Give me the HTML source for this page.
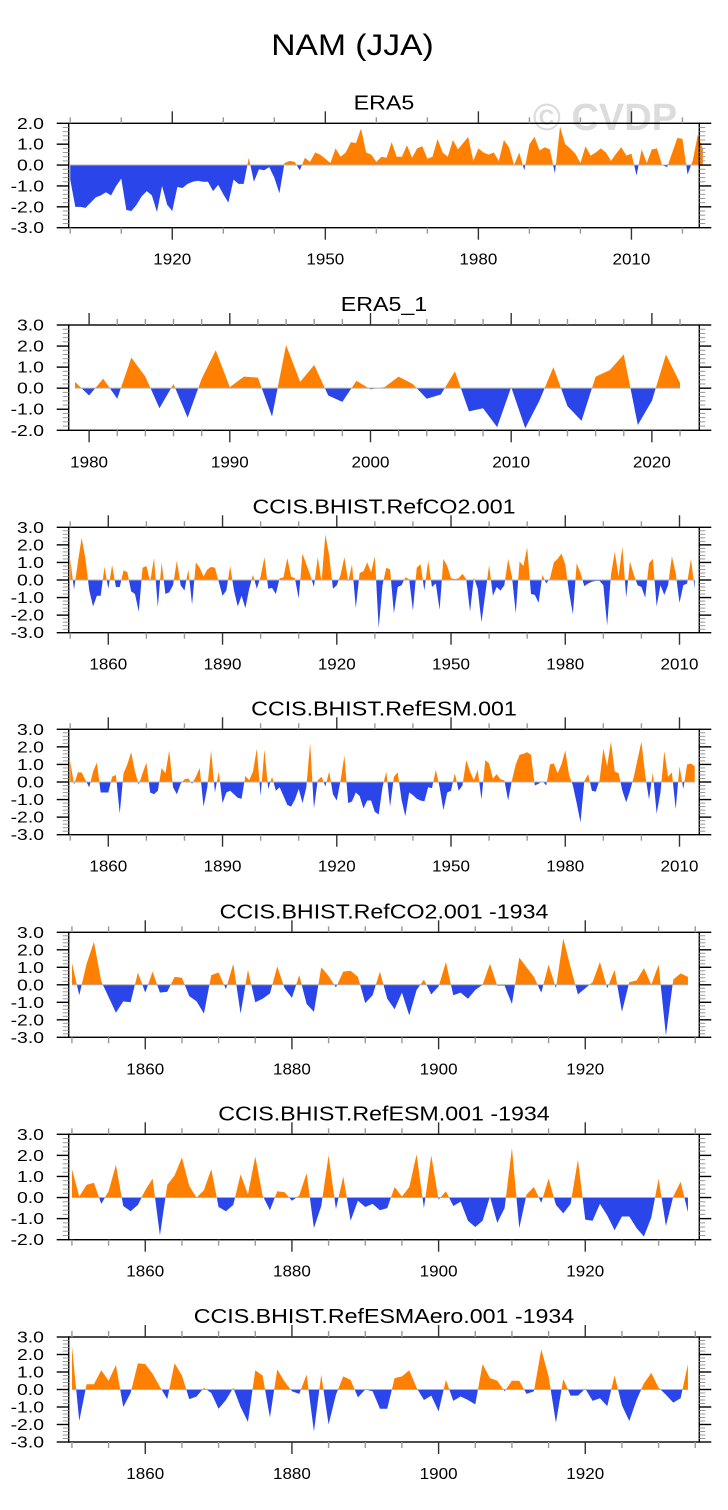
<!DOCTYPE html>
<html><head><meta charset="utf-8">
<style>
html,body{margin:0;padding:0;background:#fff;}
svg{display:block;font-family:"Liberation Sans",sans-serif;}
</style></head>
<body>
<svg id="chart" width="728" height="1510" viewBox="0 0 728 1510" xmlns="http://www.w3.org/2000/svg">
<rect x="0" y="0" width="728" height="1510" fill="#fff"/>
<text id="mainTitle" x="352.5" y="55" font-size="30" text-anchor="middle" fill="#000">NAM (JJA)</text>
<text x="605" y="130" font-size="38" font-weight="bold" text-anchor="middle" fill="#dcdcdc">© CVDP</text>
<g id="panels"></g>
</svg>
<script>
// ---- data arrays (values per year, starting at the given start year) ----
const era5Start = 1900;
const era5Values = [-0.7,-2.0,-2.0,-2.05,-1.8,-1.55,-1.45,-1.3,-1.45,-1.0,-0.65,-2.15,-2.2,-1.9,-1.5,-1.25,-1.45,-2.25,-1.0,-1.9,-2.2,-1.05,-1.1,-0.9,-0.8,-0.75,-0.8,-0.8,-1.25,-0.95,-1.4,-1.8,-0.7,-0.9,-0.9,0.35,-0.8,-0.2,-0.25,-0.1,-0.6,-1.35,0.1,0.2,0.15,-0.25,0.35,0.15,0.6,0.5,0.3,0.1,0.8,0.4,0.6,1.1,1.05,1.75,0.6,0.5,0.15,0.4,0.35,1.1,0.4,0.4,0.95,0.35,0.8,0.9,0.3,0.4,1.25,0.6,0.4,1.2,0.75,1.05,1.35,0.2,0.8,0.6,0.5,0.6,0.2,1.2,0.85,0.0,0.6,-0.25,1.0,1.35,0.7,0.85,0.75,-0.4,1.85,1.0,0.8,0.55,0.1,0.9,0.45,0.6,0.8,0.6,0.2,0.55,0.85,0.45,0.55,-0.5,0.75,0.1,0.75,0.8,0.0,-0.1,0.6,1.3,1.25,-0.45,0.2,1.45,0.75];
const era5b1Start = 1979;
const era5b1Values = [0.3,-0.35,0.45,-0.5,1.45,0.55,-0.95,0.2,-1.4,0.45,1.8,0.05,0.55,0.5,-1.35,2.05,0.3,1.1,-0.35,-0.65,0.35,-0.05,0.05,0.55,0.2,-0.5,-0.3,0.8,-1.1,-0.95,-1.85,0.05,-1.9,-0.6,1.0,-0.85,-1.55,0.55,0.85,1.6,-1.75,-0.6,1.6,0.25];
const co2Start = 1850;
const co2Values = [1.2,-0.55,1.0,2.4,1.2,-0.6,-1.5,-0.9,-0.9,0.75,-0.5,0.85,-0.4,-0.4,0.55,0.45,-0.65,-0.8,-1.8,0.7,0.8,-0.1,1.25,-1.55,1.0,-0.8,-0.7,-0.3,1.1,-0.3,-0.6,0.6,-1.4,1.0,0.7,0.2,0.6,0.75,0.7,-0.1,-0.9,-0.6,0.8,-0.6,-1.5,-0.9,-1.6,-0.5,0.3,-0.5,0.2,1.3,-0.5,-0.45,-0.8,0.1,0.15,1.25,0.2,0.1,-1.05,1.5,0.9,0.3,-0.4,1.3,-0.1,2.6,1.4,-0.5,-0.3,0.3,1.3,-0.1,0.9,-1.6,0.4,0.5,1.0,0.45,1.35,-2.75,-0.3,0.7,0.6,-1.9,-0.4,-0.3,0.15,0.05,-1.75,0.7,0.9,-0.6,1.1,-0.4,-0.2,-1.7,1.2,0.8,0.1,0.05,0.1,0.35,0.05,-1.8,0.15,-0.5,-2.4,-0.8,0.85,-0.9,-0.4,-0.6,-0.3,1.2,0.2,-1.9,1.05,0.8,1.85,-0.8,-0.85,-1.3,0.3,-0.2,0.1,1.0,1.2,1.5,0.9,-0.7,-1.95,0.95,0.4,-0.35,-0.2,-0.1,-0.05,-0.05,-0.3,-2.6,0.3,1.6,0.2,1.9,-1.0,1.05,0.3,-0.3,-0.4,-1.0,0.95,1.2,-1.5,-0.3,-0.85,-0.3,1.35,0.4,-1.3,-0.3,-0.2,1.2,-0.5];
const esmStart = 1850;
const esmValues = [1.2,-0.15,0.55,0.55,0.1,-0.3,0.6,1.1,-0.6,-0.6,-0.6,0.3,0.4,-1.8,0.5,1.0,1.7,0.6,-0.15,0.5,1.1,-0.6,-0.7,-0.5,0.8,0.5,1.8,-0.3,-0.7,-0.1,0.15,0.2,-0.1,0.3,0.8,-1.4,-0.3,1.8,-0.6,0.6,-1.2,-0.6,-0.5,-0.7,-0.9,-0.95,0.35,0.1,0.6,1.9,-0.8,1.85,-0.4,0.3,-0.5,-0.3,-0.8,-1.3,-1.4,-1.0,-0.4,-1.2,-0.3,2.2,-1.5,0.1,0.3,-0.25,0.6,-0.7,-1.05,0.1,1.5,-1.2,-1.1,-0.6,-0.8,-1.5,-1.05,-1.05,-1.7,-1.85,-0.3,0.6,-1.4,0.3,0.55,-1.0,-1.95,-0.6,-0.75,-0.95,-1.05,-1.1,-0.3,-0.35,0.7,-0.3,-1.6,-0.6,-0.5,0.5,-0.5,-0.2,1.25,0.6,0.1,0.7,-1.0,1.25,1.05,0.2,0.45,0.15,0.1,-1.05,0.1,1.0,1.55,1.6,1.7,1.55,-0.2,-0.1,0.05,-0.2,1.0,1.05,0.5,1.0,1.8,0.4,-0.2,-1.2,-2.3,0.05,0.45,-0.5,-0.55,0.1,1.9,0.9,2.3,0.6,0.5,-0.5,-1.15,-0.5,0.3,1.3,2.3,0.4,-1.0,0.55,-1.8,-0.6,1.75,0.3,0.55,-1.55,0.9,-0.4,1.0,1.05,0.9];
const co2b1934Start = 1850;
const co2b1934Values = [1.25,-0.6,1.2,2.45,0.2,-0.7,-1.6,-0.95,-1.0,0.7,-0.45,0.75,-0.45,-0.4,0.45,0.4,-0.65,-0.95,-1.65,0.55,0.7,-0.25,1.2,-1.65,0.85,-1.0,-0.8,-0.5,1.05,-0.2,-0.75,0.55,-1.1,-1.55,1.0,0.5,-0.15,0.75,0.8,0.45,-1.05,-0.6,0.75,-0.8,-1.4,-0.45,-1.75,-0.3,0.3,-0.55,-0.1,1.3,-0.6,-0.45,-0.8,-0.3,0.0,1.2,-0.05,-0.05,-1.1,1.55,1.0,0.45,-0.45,1.15,-0.2,2.65,1.0,-0.55,-0.2,0.15,1.3,-0.2,0.85,-1.55,0.15,0.25,0.95,0.0,1.15,-2.9,0.3,0.65,0.45];
const esmb1934Start = 1850;
const esmb1934Values = [1.35,0.05,0.6,0.7,-0.3,0.3,1.55,-0.4,-0.65,-0.35,0.35,0.9,-1.8,0.6,1.05,1.9,0.55,0.0,0.35,1.35,-0.45,-0.65,-0.35,1.1,0.15,1.95,0.1,-0.6,0.3,0.25,-0.15,0.1,1.15,-1.45,-0.4,2.0,-0.55,1.0,-1.1,-0.15,-0.45,-0.3,-0.6,-0.5,0.5,0.05,0.5,2.05,-0.5,2.0,-0.1,0.3,-0.4,-0.2,-1.1,-1.4,-1.1,0.05,-1.2,-0.5,2.35,-1.45,0.15,0.5,-0.25,0.9,-0.35,-0.75,-0.3,1.8,-1.05,-1.1,-0.3,-0.85,-1.55,-0.9,-0.9,-1.45,-1.85,-0.95,0.9,-1.35,0.05,0.75,-0.7];
const aeroStart = 1850;
const aeroValues = [2.5,-1.8,0.3,0.3,1.1,0.5,1.4,-1.0,-0.2,1.5,1.45,0.9,0.15,-0.55,1.5,0.8,-0.55,-0.4,0.1,-0.2,-1.1,-0.6,0.1,-1.0,-1.85,1.1,0.8,-1.6,1.15,0.45,-0.1,-0.25,0.85,-2.4,0.85,-2.0,-0.3,0.75,0.55,-0.45,0.0,-0.1,-1.1,-1.1,0.65,0.75,1.1,0.1,-0.6,-0.35,-1.25,0.55,-0.65,-0.4,-0.6,-0.85,1.45,0.65,0.5,-0.1,0.5,0.5,-0.25,-0.1,2.3,0.75,-1.9,0.6,-0.35,-0.35,0.05,-0.65,-0.5,-0.95,0.8,-0.9,-1.8,-0.6,0.35,0.95,0.1,-0.3,-0.75,-0.5,1.45];
const yTickLabelsA = ["2.0","1.0","0.0","-1.0","-2.0","-3.0"];
const yTickLabels3 = ["3.0","2.0","1.0","0.0","-1.0","-2.0","-3.0"];
const yTickLabels2 = ["3.0","2.0","1.0","0.0","-1.0","-2.0"];
const xLabelsERA5 = [1920,1950,1980,2010];
const xLabelsERA5b1 = [1980,1990,2000,2010,2020];
const xLabelsLong = [1860,1890,1920,1950,1980,2010];
const xLabelsShort = [1860,1880,1900,1920];

const NS = "http://www.w3.org/2000/svg";
const panelsG = document.getElementById('panels');
const BL = 68.7, BR = 699.3;
function mk(tag, attrs, parent){ const e=document.createElementNS(NS,tag); for(const k in attrs) e.setAttribute(k,attrs[k]); parent.appendChild(e); return e; }
function stretch(el, f){ try{ const w = el.getComputedTextLength(); if(w>0){ el.setAttribute('textLength', (w*f).toFixed(1)); el.setAttribute('lengthAdjust','spacingAndGlyphs'); } }catch(e){} }

stretch(document.getElementById('mainTitle'), 1.12);

const panels = [
 {name:'era5', title:'ERA5', top:123.3, bot:227.7, ymin:-3, ymax:2, yl:yTickLabelsA, x0:1899.7, x1:2023.3, start:era5Start, vals:era5Values, labels:xLabelsERA5, major:30, minor:10, first:1900},
 {name:'era5-1', title:'ERA5_1', top:325, bot:430.3, ymin:-2, ymax:3, yl:yTickLabels2, x0:1978.55, x1:2023.37, start:era5b1Start, vals:era5b1Values, labels:xLabelsERA5b1, major:10, minor:2, first:1980},
 {name:'refco2', title:'CCIS.BHIST.RefCO2.001', top:527.3, bot:632.7, ymin:-3, ymax:3, yl:yTickLabels3, x0:1849.6, x1:2015.2, start:co2Start, vals:co2Values, labels:xLabelsLong, major:30, minor:10, first:1850},
 {name:'refesm', title:'CCIS.BHIST.RefESM.001', top:729.3, bot:834.7, ymin:-3, ymax:3, yl:yTickLabels3, x0:1849.6, x1:2015.2, start:esmStart, vals:esmValues, labels:xLabelsLong, major:30, minor:10, first:1850},
 {name:'refco2-1934', title:'CCIS.BHIST.RefCO2.001 -1934', top:932.3, bot:1037.3, ymin:-3, ymax:3, yl:yTickLabels3, x0:1849.56, x1:1935.55, start:co2b1934Start, vals:co2b1934Values, labels:xLabelsShort, major:20, minor:5, first:1850},
 {name:'refesm-1934', title:'CCIS.BHIST.RefESM.001 -1934', top:1134.3, bot:1239.7, ymin:-2, ymax:3, yl:yTickLabels2, x0:1849.56, x1:1935.55, start:esmb1934Start, vals:esmb1934Values, labels:xLabelsShort, major:20, minor:5, first:1850},
 {name:'refesmaero-1934', title:'CCIS.BHIST.RefESMAero.001 -1934', top:1337, bot:1442, ymin:-3, ymax:3, yl:yTickLabels3, x0:1849.56, x1:1935.55, start:aeroStart, vals:aeroValues, labels:xLabelsShort, major:20, minor:5, first:1850}
];

panels.forEach((p, pi) => {
  const g = mk('g', {}, panelsG);
  
  
  const xs = v => BL + (v - p.x0) / (p.x1 - p.x0) * (BR - BL);
  const ys = v => p.top + (p.ymax - v) / (p.ymax - p.ymin) * (p.bot - p.top);
  const y0 = ys(0);
  const t = mk('text', {x:(BL+BR)/2, y:p.top-14, 'font-size':20, 'text-anchor':'middle', fill:'#000'}, g);
  
  
  t.textContent = p.title;
  stretch(t, 1.16);
  let pts = [];
  p.vals.forEach((v,i) => pts.push(xs(p.start+i).toFixed(2)+','+ys(v).toFixed(2)));
  const xa = xs(p.start).toFixed(2), xb = xs(p.start+p.vals.length-1).toFixed(2);
  const poly = xa+','+y0+' '+pts.join(' ')+' '+xb+','+y0;
  const cidA = 'ca'+pi, cidB = 'cb'+pi;
  const defs = mk('defs', {}, g);
  const cA = mk('clipPath', {id:cidA}, defs); mk('rect', {x:0, y:p.top-5, width:728, height:y0-p.top+5}, cA);
  const cB = mk('clipPath', {id:cidB}, defs); mk('rect', {x:0, y:y0, width:728, height:p.bot-y0+5}, cB);
  const pa = mk('polygon', {points:poly, fill:'#ff8000', 'clip-path':'url(#'+cidA+')'}, g);
  
  
  const pb = mk('polygon', {points:poly, fill:'#2a45ea', 'clip-path':'url(#'+cidB+')'}, g);
  
  
  const zl = mk('line', {x1:xa, x2:xb, y1:y0, y2:y0, stroke:'#b0b0b0', 'stroke-width':1}, g);
  
  
  const box = mk('rect', {x:BL, y:p.top, width:BR-BL, height:p.bot-p.top, fill:'none', stroke:'#000', 'stroke-width':1.4}, g);
  
  
  for (let k = 0; k <= (p.ymax-p.ymin)*5; k++) {
    const v = p.ymin + k*0.2, y = ys(v), maj = (k%5===0);
    const L = maj ? 12 : 6, col = maj ? '#000' : '#999';
    mk('line', {x1:BL-L, x2:BL, y1:y, y2:y, stroke:col, 'stroke-width':maj?1.4:1}, g);
    mk('line', {x1:BR, x2:BR+L, y1:y, y2:y, stroke:col, 'stroke-width':maj?1.4:1}, g);
  }
  p.yl.forEach(lab => {
    const tt = mk('text', {x:44, y:ys(parseFloat(lab))+5.5, 'font-size':15.5, 'text-anchor':'end', fill:'#000'}, g);
    
    
    tt.textContent = lab;
    stretch(tt, 1.25);
  });
  for (let yr = p.first; yr <= p.x1; yr += p.minor) {
    const x = xs(yr), maj = ((yr - p.labels[0]) % p.major === 0);
    const L = maj ? 12 : 6, col = maj ? '#333' : '#999';
    mk('line', {x1:x, x2:x, y1:p.top-L, y2:p.top, stroke:col, 'stroke-width':1.4}, g);
    mk('line', {x1:x, x2:x, y1:p.bot, y2:p.bot+L, stroke:col, 'stroke-width':1.4}, g);
  }
  p.labels.forEach(yr => {
    const tt = mk('text', {x:xs(yr), y:p.bot+37, 'font-size':15.5, 'text-anchor':'middle', fill:'#000'}, g);
    
    
    tt.textContent = yr;
    stretch(tt, 1.1);
  });
});
</script>
</body></html>
